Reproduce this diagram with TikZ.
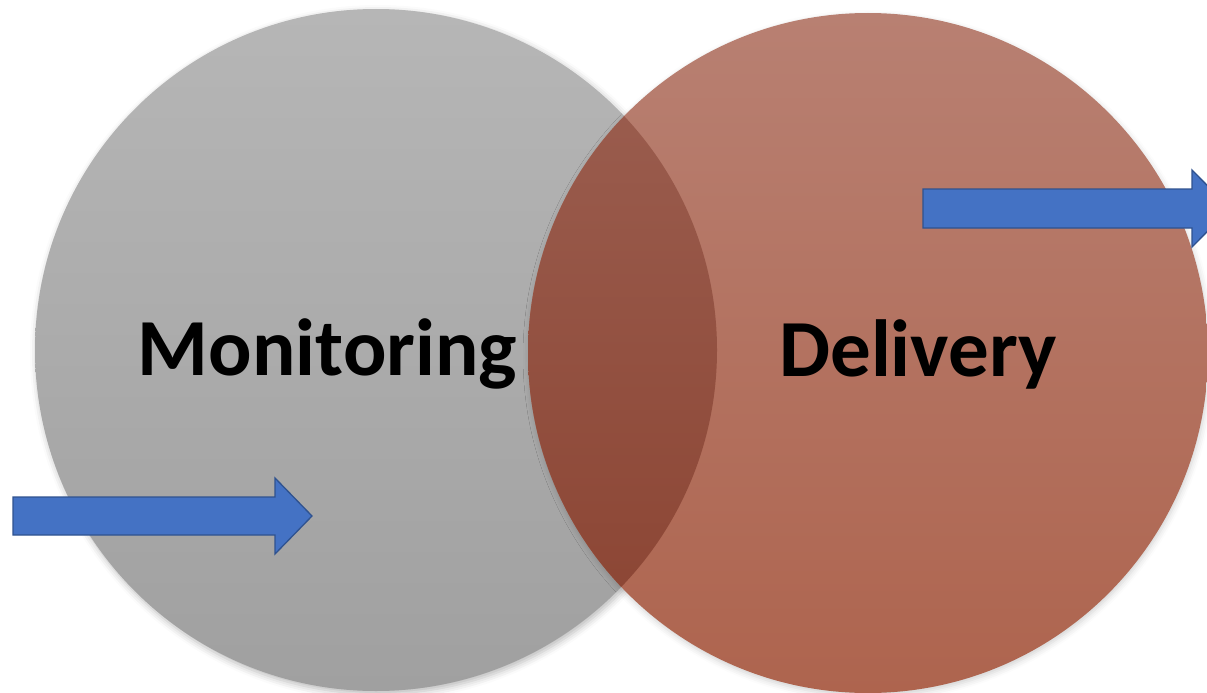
\documentclass[tikz,border=0pt]{standalone}
\usepackage{fontspec}
\setmainfont{Carlito}
\usetikzlibrary{shadows.blur}
\definecolor{arrowfill}{HTML}{4472C4}
\definecolor{arrowline}{HTML}{2F528F}
\definecolor{graytop}{HTML}{B6B6B6}
\definecolor{graybot}{HTML}{A0A0A0}
\definecolor{redtop}{HTML}{B88072}
\definecolor{redbot}{HTML}{AE644E}
\definecolor{ovtop}{HTML}{9C6052}
\definecolor{ovbot}{HTML}{8A4230}
\tikzset{
  venn/.style={circle, inner sep=0pt, minimum size=#1, draw=none},
  bigword/.style={font=\fontsize{81}{90}\selectfont\bfseries, text=black, anchor=base, inner sep=0pt},
  blockarrow/.style={fill=arrowfill, draw=arrowline, line width=1.3pt, line join=miter},
  softshadow/.style={blur shadow={shadow xshift=2pt, shadow yshift=-3pt, shadow blur radius=7pt, shadow opacity=28}},
  lightshadow/.style={blur shadow={shadow xshift=1pt, shadow yshift=-3pt, shadow blur radius=6pt, shadow opacity=18}}
}
\begin{document}
\begin{tikzpicture}[x=1pt,y=-1pt]
\useasboundingbox (0,0) rectangle (1207,693);
\clip (0,0) rectangle (1207,693);
% circles
\node[venn=682pt, softshadow, top color=graytop, bottom color=graybot] (mon) at (376,350) {};
\node[venn=680pt, lightshadow, top color=redtop, bottom color=redbot] (del) at (868,353) {};
% overlap
\begin{scope}
  \clip (mon.center) circle[radius=341];
  \shade[top color=ovtop, bottom color=ovbot] (del.center) circle[radius=340];
\end{scope}
% arrows
\draw[blockarrow] (13,497) -- (275,497) -- (275,478) -- (312,516) -- (275,554) -- (275,535) -- (13,535) -- cycle;
\draw[blockarrow] (923,189) -- (1192,189) -- (1192,170) -- (1230,208.5) -- (1192,247) -- (1192,228) -- (923,228) -- cycle;
% labels
\node[bigword] (montext) at (327.5,375) {Monitoring};
\node[bigword] (deltext) at (918,376) {Delivery};
\end{tikzpicture}
\end{document}
